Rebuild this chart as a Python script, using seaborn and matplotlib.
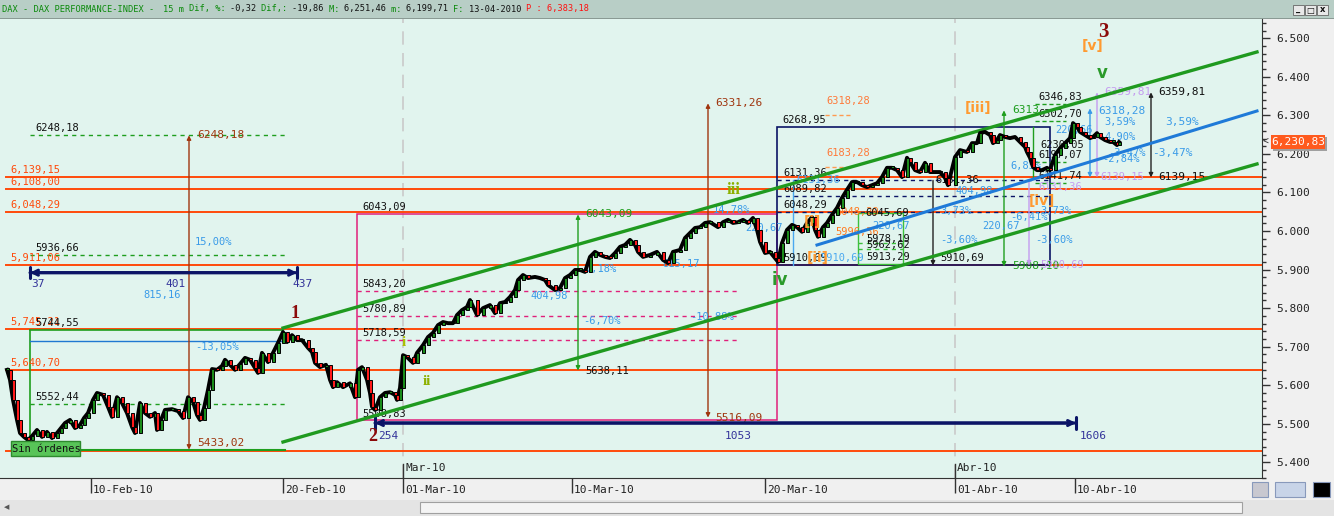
import matplotlib
matplotlib.use("Agg")
import matplotlib.pyplot as plt
import matplotlib.transforms as mtransforms
from matplotlib.patches import Rectangle, FancyBboxPatch
from matplotlib.ticker import FuncFormatter, MultipleLocator
import numpy as np
import pandas as pd
import seaborn as sns

# ---------------- data ----------------
bar_pos = [7, 10, 13, 17, 20, 24, 28, 32, 37, 42, 47, 52, 57, 61, 65, 70, 75, 80, 84, 88,
           93, 97, 103, 108, 112, 117, 122, 127, 132, 135, 140, 145, 150, 155, 157, 161, 165,
           172, 178, 183, 188, 193, 197, 200, 204, 208, 212, 217, 222, 225, 230, 235, 240, 245,
           250, 255, 258, 262, 268, 273, 278, 283, 287, 292, 297, 302, 308, 312, 315, 320, 326,
           330, 333, 337, 343, 350, 355, 358, 362, 367, 370, 372, 375, 380, 385, 390, 395, 397,
           400, 403, 407, 413, 417, 423, 428, 433, 438, 443, 448, 453, 457, 462, 467, 470, 477,
           483, 490, 495, 500, 505, 510, 515, 518, 523, 528, 535, 540, 545, 548, 555, 560, 565,
           570, 575, 580, 585, 590, 595, 600, 605, 610, 615, 620, 625, 630, 635, 638, 643, 650,
           657, 663, 668, 673, 680, 685, 690, 695, 700, 705, 710, 718, 723, 728, 733, 738, 743,
           748, 753, 757, 760, 765, 770, 775, 778, 782, 787, 792, 797, 802, 807, 812, 815, 818,
           823, 827, 832, 837, 842, 847, 852, 857, 862, 867, 872, 877, 882, 887, 892, 897, 902,
           907, 910, 915, 920, 925, 930, 935, 940, 945, 948, 955, 960, 967, 972, 977, 980, 985,
           990, 993, 997, 1000, 1005, 1010, 1015, 1020, 1025, 1027, 1030, 1033, 1037, 1042,
           1047, 1050, 1055, 1060, 1065, 1070, 1073, 1077, 1080, 1085, 1090, 1093, 1097, 1100,
           1105, 1110, 1113, 1117, 1119]
close = [5640, 5614, 5562, 5510, 5476, 5466, 5458, 5468, 5484, 5466, 5479, 5463, 5476, 5489,
         5502, 5510, 5489, 5497, 5515, 5528, 5562, 5580, 5575, 5544, 5518, 5569, 5554, 5528,
         5492, 5476, 5554, 5528, 5518, 5528, 5484, 5510, 5536, 5538, 5533, 5515, 5569, 5557,
         5523, 5510, 5541, 5588, 5642, 5640, 5650, 5666, 5653, 5640, 5655, 5671, 5666, 5645,
         5632, 5684, 5660, 5684, 5710, 5738, 5712, 5730, 5717, 5717, 5697, 5686, 5658, 5647,
         5653, 5614, 5595, 5608, 5595, 5605, 5569, 5640, 5647, 5614, 5580, 5544, 5536, 5569,
         5580, 5582, 5575, 5562, 5593, 5678, 5673, 5658, 5684, 5704, 5725, 5736, 5756, 5764,
         5761, 5761, 5782, 5795, 5803, 5821, 5782, 5800, 5808, 5787, 5813, 5816, 5829, 5847,
         5873, 5886, 5878, 5881, 5878, 5873, 5860, 5847, 5852, 5878, 5886, 5899, 5899, 5894,
         5933, 5946, 5938, 5933, 5930, 5943, 5959, 5964, 5977, 5964, 5946, 5933, 5938, 5946,
         5925, 5917, 5946, 5951, 5982, 5995, 6008, 6010, 6021, 6023, 6010, 6023, 6029, 6021,
         6023, 6029, 6021, 6034, 6003, 5972, 5943, 5946, 5930, 5920, 5969, 6003, 6016, 6010,
         5998, 6021, 6036, 6003, 5985, 6010, 6021, 6042, 6060, 6086, 6107, 6127, 6127, 6119,
         6114, 6119, 6124, 6140, 6164, 6164, 6158, 6140, 6190, 6179, 6158, 6153, 6177, 6153,
         6153, 6153, 6138, 6119, 6192, 6210, 6205, 6228, 6228, 6254, 6257, 6249, 6228, 6236,
         6249, 6244, 6241, 6244, 6231, 6218, 6205, 6190, 6166, 6158, 6158, 6164, 6158, 6197,
         6215, 6228, 6241, 6280, 6270, 6257, 6249, 6241, 6244, 6254, 6244, 6236, 6231, 6231,
         6223, 6230.83]

date_pos = [91, 283, 403, 572, 765, 955, 1075]
date_labels = ["10-Feb-10", "20-Feb-10", "01-Mar-10", "10-Mar-10", "20-Mar-10", "01-Abr-10", "10-Abr-10"]
month_pos = [403, 955]
month_labels = ["Mar-10", "Abr-10"]

level_values = [6139.15, 6108.00, 6048.29, 5911.06, 5745.21, 5640.70, 5430.00]
level_labels = ["6,139,15", "6,108,00", "6,048,29", "5,911,06", "5,745,21", "5,640,70", ""]

channel_x = [283, 1257]
channel_upper = [5748.5, 6464.5]
channel_lower = [5452.8, 6174.0]
trend_x = [817, 1257]
trend_v = [5963.8, 6311.4]

left_dashed = [6248.18, 5936.66, 5552.44]
pink_levels = [5843.20, 5780.89, 5718.59]
navy_levels = [6131.36, 6089.82, 6048.29]

last_price = "6,230,83"
title_parts = [("DAX - DAX PERFORMANCE-INDEX -  ", "#0a8a0a"), ("15 m ", "#0a8a0a"),
               ("Dif, %: ", "#0a8a0a"), ("-0,32 ", "#111111"), ("Dif,: ", "#0a8a0a"),
               ("-19,86 ", "#111111"), ("M: ", "#0a8a0a"), ("6,251,46 ", "#111111"),
               ("m: ", "#0a8a0a"), ("6,199,71 ", "#111111"), ("F: ", "#0a8a0a"),
               ("13-04-2010 ", "#111111"), ("P : 6,383,18", "#ff1010")]

# ---------------- figure ----------------
W, H = 1334, 516
fig = plt.figure(figsize=(W / 100, H / 100), dpi=100)
fig.patch.set_facecolor("#f0f0f0")

def fx(px):
    return px / W

def fy(py):
    return 1 - py / H

ax = fig.add_axes([0, fy(478), fx(1262), (478 - 19) / H])
ax.set_facecolor("#e1f4ee")
ax.set_xlim(0, 1262)
ax.set_ylim(5359.4, 6550)

MONO = "DejaVu Sans Mono"

up = mtransforms.offset_copy(ax.transData, fig=fig, x=0, y=7, units="dots")
down = mtransforms.offset_copy(ax.transData, fig=fig, x=0, y=-7, units="dots")

def t(x, v, s, c, size=7.5, trans=None, **kw):
    ax.text(x, v, s, color=c, fontsize=size, family=MONO, va="center", ha=kw.pop("ha", "left"),
            transform=trans if trans is not None else ax.transData, clip_on=False, **kw)

# month separators
for mp in month_pos:
    ax.axvline(mp, color="#c9c9c9", lw=1.2, ls=(0, (8, 5)), zorder=1)

# orange horizontal levels
for v, lab in zip(level_values, level_labels):
    ax.plot([6, 1262], [v, v], color="#ff4a0a", lw=1.4, zorder=2)
    if lab:
        t(10, v, lab, "#ff4a0a", trans=up)

# left region green elements
for v in left_dashed:
    ax.plot([30, 285], [v, v], color="#1e9e1e", lw=1, ls=(0, (3, 3)), zorder=2)
    t(35, v, f"{v:.2f}".replace(".", ","), "#111111", trans=up)
ax.plot([30, 283], [5744.55, 5744.55], color="#1e9e1e", lw=1.2, zorder=2)
t(35, 5744.55, "5744,55", "#111111", trans=up)
ax.plot([12, 285], [5433.02, 5433.02], color="#1e9e1e", lw=1.5, zorder=2)
ax.plot([30, 30], [5433.02, 5744.55], color="#1e9e1e", lw=1.2, zorder=2)
ax.plot([30, 283], [5714.8, 5714.8], color="#1f78d1", lw=1, zorder=2)

def varrow(x, v0, v1, c, lw=1.0, style="<|-|>"):
    ax.annotate("", xy=(x, v1), xytext=(x, v0),
                arrowprops=dict(arrowstyle=style, color=c, lw=lw, mutation_scale=6,
                                shrinkA=0, shrinkB=0), zorder=3)

varrow(189, 5433.02, 6248.18, "#a0360f")
t(197, 6248.18, "6248,18", "#a0360f", size=8)
t(197, 5433.02, "5433,02", "#a0360f", size=8, trans=up)
t(195, 5972, "15,00%", "#3a9be8")
t(143, 5834, "815,16", "#3a9be8")
t(195, 5699, "-13,05%", "#3a9be8")

varrow(708, 5516.09, 6331.26, "#a0360f")
t(715, 6331.26, "6331,26", "#a0360f", size=8)
t(715, 5516.09, "5516,09", "#a0360f", size=8)

def harrow(x0, x1, v):
    ax.annotate("", xy=(x1, v), xytext=(x0, v),
                arrowprops=dict(arrowstyle="|-|", color="#0b1466", lw=2.2, mutation_scale=4,
                                shrinkA=0, shrinkB=0), zorder=3)
    ax.annotate("", xy=(x1, v), xytext=(x0, v),
                arrowprops=dict(arrowstyle="<->", color="#0b1466", lw=2.2, mutation_scale=9,
                                shrinkA=0, shrinkB=0), zorder=3)

harrow(30, 297, 5892)
t(31, 5863, "37", "#33339a", size=8)
t(165, 5863, "401", "#33339a", size=8)
t(292, 5863, "437", "#33339a", size=8)
harrow(375, 1076, 5502)
t(378, 5468, "254", "#33339a", size=8)
t(725, 5468, "1053", "#33339a", size=8)
t(1080, 5468, "1606", "#33339a", size=8)

# pink rectangle & dashed levels
ax.add_patch(Rectangle((357, 5508.83), 777 - 357, 6043.09 - 5508.83, fill=False,
                       ec="#e0207a", lw=1.1, zorder=2))
t(362, 6043.09, "6043,09", "#111111", trans=up)
for v in pink_levels:
    ax.plot([357, 738], [v, v], color="#e0207a", lw=1, ls=(0, (3, 3)), zorder=2)
    t(362, v, f"{v:.2f}".replace(".", ","), "#111111", trans=up)
t(362, 5526, "5508,83", "#111111")

varrow(578, 5638.11, 6043.09, "#1e9e1e")
t(585, 6043.09, "6043,09", "#1e9e1e", size=8)
t(585, 5638.11, "5638,11", "#111111")
t(530, 5832, "404,98", "#3a9be8")
t(585, 5902, "7,18%", "#3a9be8")
t(583, 5767, "-6,70%", "#3a9be8")
t(690, 5777, "-10,88%", "#3a9be8")
t(662, 5915, "815,17", "#3a9be8")
t(713, 6055, "14,78%", "#3a9be8")
t(745, 6008, "220,67", "#3a9be8")

# navy box
ax.add_patch(Rectangle((777, 5910.69), 1050 - 777, 6268.95 - 5910.69, fill=False,
                       ec="#0b1466", lw=1.2, zorder=2))
t(782, 6268.95, "6268,95", "#111111", trans=up)
for v in navy_levels:
    ax.plot([777, 1050], [v, v], color="#0b1466", lw=1, ls=(0, (3, 3)), zorder=2)
    t(783, v, f"{v:.2f}".replace(".", ","), "#111111", trans=up)
t(783, 5910.69, "5910,69", "#111111", trans=up)
ax.plot([793, 793], [5910.69, 6131.36], color="#4aa8f0", lw=1, zorder=2)
t(796, 6131.36, "6131,36", "#4aa8f0")
t(835, 6048.29, "6048,29", "#ff7a20")
t(835, 5996.36, "5996,36", "#ff7a20")
t(820, 5910.69, "5910,69", "#4aa8f0", trans=up)

ax.plot([825, 852], [6318.28 - 18, 6318.28 - 18], color="#ff9a50", lw=1, ls=(0, (3, 2)))
t(826, 6318.28, "6318,28", "#ff7a3a", trans=up)
ax.plot([825, 852], [6183.28 - 18, 6183.28 - 18], color="#ff9a50", lw=1, ls=(0, (3, 2)))
t(826, 6183.28, "6183,28", "#ff7a3a", trans=up)

ax.add_patch(Rectangle((858, 5913.29), 903 - 858, 6045.69 - 5913.29, fill=False,
                       ec="#3cc03c", lw=1, zorder=2))
for v in [5978.19, 5962.62]:
    ax.plot([858, 903], [v - 10, v - 10], color="#3cc03c", lw=1, ls=(0, (3, 3)))
t(865, 6045.69, "6045,69", "#111111")
t(866, 5978.19, "5978,19", "#111111")
t(866, 5962.62, "5962,62", "#111111")
t(866, 5913.29, "5913,29", "#111111", trans=up)
t(872, 6013, "220,67", "#3a9be8")

varrow(933, 6131.36, 5910.69, "#222222", style="-|>")
t(940, 5910.69, "5910,69", "#111111", trans=up)
t(935, 6131.36, "6131,36", "#111111")
t(955, 6104, "404,98", "#3a9be8")
t(940, 6052, "3,73%", "#3a9be8")
t(940, 5977, "-3,60%", "#3a9be8")

varrow(1004, 5908.10, 6313.0, "#1e9e1e")
t(1012, 6313.0, "6313", "#1e9e1e", size=8)
t(1012, 5908.10, "5908,10", "#1e9e1e", size=8)
t(982, 6013, "220,67", "#3a9be8")
t(1010, 6169, "6,85%", "#3a9be8")
t(1010, 6036, "-6,41%", "#3a9be8")
t(1040, 6052, "3,73%", "#3a9be8")
t(1035, 5977, "-3,60%", "#3a9be8")

ax.plot([1033, 1033], [6139.15, 6268.95], color="#1e9e1e", lw=1)
varrow(1029, 6131.36, 5910.69, "#c49cf0", style="-|>")
t(1038, 6131.36, "6131,36", "#c49cf0", trans=down)
t(1040, 5910.69, "5910,69", "#c49cf0")

for v, lab in [(6346.83, "6346,83"), (6302.70, "6302,70"), (6197.07, "6197,07"), (6141.74, "6141,74")]:
    ax.plot([1035, 1066], [v - 18, v - 18], color="#1e9e1e", lw=1, ls=(0, (3, 2)))
    t(1038, v, lab, "#111111")
t(1040, 6224, "6230,05", "#111111")
t(1055, 6262, "220,66", "#3a9be8")

varrow(1090, 6139.15, 6318.28, "#3a9be8")
t(1098, 6311, "6318,28", "#3a9be8", size=8)
varrow(1097, 6139.15, 6359.81, "#c49cf0")
t(1104, 6359.81, "6359,81", "#c49cf0", size=8)
t(1104, 6283, "3,59%", "#3a9be8")
t(1104, 6245, "4,90%", "#3a9be8")
t(1108, 6202, "-3,47%", "#3a9be8")
t(1102, 6186, "-2,84%", "#3a9be8")
t(1100, 6139.15, "6139,15", "#c49cf0")

varrow(1151, 6139.15, 6359.81, "#222222")
t(1158, 6359.81, "6359,81", "#111111", size=8)
t(1158, 6139.15, "6139,15", "#111111", size=8)
t(1165, 6283, "3,59%", "#3a9be8", size=8)
t(1152, 6202, "-3,47%", "#3a9be8", size=8)

# channel & trend lines (seaborn)
ch = pd.DataFrame({"x": channel_x * 2, "v": channel_upper + channel_lower,
                   "line": ["upper", "upper", "lower", "lower"]})
sns.lineplot(data=ch, x="x", y="v", units="line", estimator=None, color="#1f9a1f",
             lw=2.4, ax=ax, legend=False, zorder=4)
sns.lineplot(x=trend_x, y=trend_v, color="#1f7ad8", lw=2.2, ax=ax, legend=False, zorder=4)

# price candles
px = np.array(bar_pos, dtype=float)
pc = np.array(close, dtype=float)
sns.lineplot(x=px, y=pc, color="black", lw=2.8, ax=ax, legend=False, zorder=5,
             estimator=None, sort=False)
prev = np.r_[pc[0], pc[:-1]]
lo = np.minimum(prev, pc)
hi = np.maximum(prev, pc)
ht = np.maximum(hi - lo, 4)
cols = np.where(pc < prev, "#ff1a1a", "#1a8c1a")
ax.bar(px, ht, bottom=lo, width=3.0, color=cols, edgecolor="black", linewidth=0.7, zorder=6)

# wave labels
def wave(x, v, s, c, size=13, fam="Liberation Serif"):
    ax.text(x, v, s, color=c, fontsize=size, family=fam, weight="bold", ha="center",
            va="center", zorder=7)

wave(295, 5787, "1", "#8b0a0a")
wave(373, 5468, "2", "#8b0a0a")
wave(1103, 6516, "3", "#8b0a0a", size=15)
wave(404, 5712, "i", "#a8c000", size=11)
wave(427, 5611, "ii", "#8cb000", size=11)
wave(734, 6106, "iii", "#8cb000", size=12)
wave(780, 5873, "iv", "#2a9a2a", size=12, fam="DejaVu Sans")
wave(1102, 6410, "v", "#2a9a2a", size=12, fam="DejaVu Sans")
wave(978, 6319, "[iii]", "#ff9a30", size=10, fam="DejaVu Sans")
wave(1042, 6078, "[iv]", "#ff9a30", size=10, fam="DejaVu Sans")
wave(1093, 6480, "[v]", "#ff9a30", size=10, fam="DejaVu Sans")
wave(812, 6023, "[i]", "#ff9a30", size=10, fam="DejaVu Sans")
wave(818, 5930, "[ii]", "#ff9a30", size=10, fam="DejaVu Sans")

# axes styling
for s in ["top", "left"]:
    ax.spines[s].set_visible(False)
ax.spines["right"].set_color("#333333")
ax.spines["bottom"].set_color("#333333")
ax.yaxis.tick_right()
ax.yaxis.set_major_locator(MultipleLocator(100))
ax.yaxis.set_minor_locator(MultipleLocator(20))
ax.yaxis.set_major_formatter(FuncFormatter(lambda v, p: f"{int(round(v)) // 1000}.{int(round(v)) % 1000:03d}"))
ax.tick_params(axis="y", which="major", length=6, width=1, color="#333333", labelsize=8,
               labelcolor="#222222", pad=4, labelfontfamily=MONO)
ax.tick_params(axis="y", which="minor", length=3, width=1, color="#333333")
ax.set_xticks(date_pos)
ax.set_xticklabels([])
ax.tick_params(axis="x", length=11, width=1, color="#333333", direction="out")
ax.set_xlabel("")
ax.set_ylabel("")
btrans = mtransforms.blended_transform_factory(ax.transData, ax.transAxes)
for p, lab in zip(date_pos, date_labels):
    ax.text(p + 2, -0.026, lab, transform=btrans, fontsize=8, family=MONO, color="#222222",
            ha="left", va="center", clip_on=False)
for p, lab in zip(month_pos, month_labels):
    ax.plot([p, p], [0, 0.03], transform=btrans, color="#333333", lw=1)
    ax.text(p + 2, 0.022, lab, transform=btrans, fontsize=8, family=MONO, color="#222222",
            ha="left", va="center")

# "Sin órdenes" button
fig.add_artist(FancyBboxPatch((fx(11), fy(456)), fx(69), 15 / H, boxstyle="square,pad=0",
                              transform=fig.transFigure, fc="#58c458", ec="#2e8a2e", lw=1))
fig.text(fx(46), fy(448.5), "Sin órdenes", fontsize=7.5, family=MONO, color="#111111",
         ha="center", va="center")

# last price tag
fig.add_artist(Rectangle((fx(1273), fy(151)), fx(54), 14 / H, transform=fig.transFigure,
                         fc="#a0a0a0", ec="none"))
fig.add_artist(Rectangle((fx(1271), fy(149)), fx(54), 14 / H, transform=fig.transFigure,
                         fc="#ff5a1e", ec="none"))
fig.text(fx(1298), fy(142), last_price, fontsize=8, family=MONO, color="white",
         ha="center", va="center")
fig.text(fx(1263), fy(142), "<", fontsize=7, family=MONO, color="#333333", ha="left", va="center")

# title bar
fig.add_artist(Rectangle((0, fy(18)), 1, 18 / H, transform=fig.transFigure, fc="#b8cec6", ec="none"))
fig.add_artist(Rectangle((0, fy(19)), 1, 1 / H, transform=fig.transFigure, fc="#8a9a94", ec="none"))
tsize = 6.2
char_w = 0.602 * tsize * 100 / 72
xpos = 2.0
for s, c in title_parts:
    fig.text(fx(xpos), fy(9), s, fontsize=tsize, family=MONO, color=c, ha="left", va="center")
    xpos += len(s) * char_w
for i, sym in enumerate(["_", "□", "x"]):
    xb = 1293 + i * 12
    fig.add_artist(Rectangle((fx(xb), fy(15)), fx(11), 10 / H, transform=fig.transFigure,
                             fc="#e8e8e8", ec="#666666", lw=0.6))
    fig.text(fx(xb + 5.5), fy(10), sym, fontsize=6, family="DejaVu Sans", color="#111111",
             ha="center", va="center", weight="bold")

# bottom scrollbar
fig.add_artist(Rectangle((0, 0), 1, 16 / H, transform=fig.transFigure, fc="#e4e4e4", ec="none"))
fig.add_artist(Rectangle((fx(420), fy(513)), fx(822), 11 / H, transform=fig.transFigure,
                         fc="#f4f4f4", ec="#a0a0a0", lw=0.8))
fig.text(fx(7), fy(507), "◀", fontsize=5, family="DejaVu Sans", color="#555555", ha="center", va="center")
for xb, wb, fc in [(1252, 16, "#c8c8d0"), (1275, 30, "#c8d4e8"), (1313, 17, "#000000")]:
    fig.add_artist(Rectangle((fx(xb), fy(497)), fx(wb), 15 / H, transform=fig.transFigure,
                             fc=fc, ec="#8899bb", lw=0.8))

fig.savefig("out.png", dpi=100, facecolor=fig.get_facecolor())
